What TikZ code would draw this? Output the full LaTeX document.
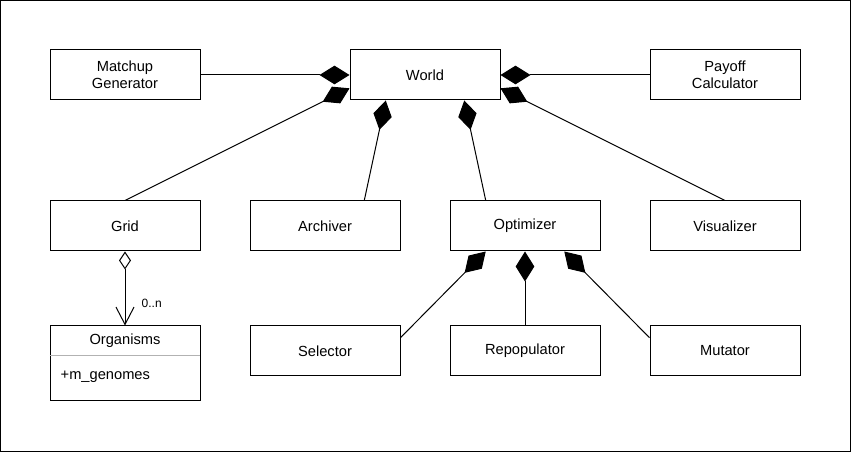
\documentclass[tikz,border=0pt]{standalone}
\usepackage{fontspec}
\setmainfont{Liberation Sans}
\usetikzlibrary{arrows.meta}

\tikzset{
  classbox/.style={draw, line width=0.75pt, minimum width=112.5pt, minimum height=37.5pt,
    inner sep=0pt, align=center, font=\fontsize{11}{13}\selectfont},
  owns/.style={line width=0.75pt, -{Diamond[length=22.5pt,width=14pt]}},
}

\begin{document}
\begin{tikzpicture}[x=0.75pt,y=0.75pt]
\useasboundingbox (0,0) rectangle (851,-452);
\draw [line width=0.75pt] (0.5,-0.5) rectangle (850.5,-451.5);
% top row
\node [classbox] (matchup) at (125,-75) {Matchup\\Generator};
\node [classbox] (world) at (425,-75) {World};
\node [classbox] (payoff) at (725,-75) {Payoff\\Calculator};
% middle row
\node [classbox] (grid) at (125,-226) {Grid};
\node [classbox] (archiver) at (325,-226) {Archiver};
\node [classbox] (optimizer) at (525,-226) {Optimizer};
\node [classbox] (visualizer) at (725,-226) {Visualizer};
% bottom row
\node [classbox] (selector) at (325,-351) {Selector};
\node [classbox] (repopulator) at (525,-351) {Repopulator};
\node [classbox] (mutator) at (725,-351) {Mutator};
\node [classbox, minimum height=56.25pt] (organisms) at (125,-363.5) {};
\node [font=\fontsize{11}{13}\selectfont] (orgtitle) at (125,-341) {Organisms};
\draw [gray!60, line width=0.75pt] (organisms.north west) ++(0,-30.5) -- ++(150,0);
\node [font=\fontsize{11}{13}\selectfont, anchor=west] (genomes) at (56,-377) {+m\_genomes};
% composition
\draw [owns] (matchup.east) -- (world.west);
\draw [owns] (payoff.west) -- (world.east);
\draw [owns] (grid.north) -- (world.190);
\draw [owns] (archiver.33) -- (world.213);
\draw [owns] (optimizer.147) -- (world.-33);
\draw [owns] (visualizer.north) -- (world.-10);
\draw [owns] (selector.10) -- (optimizer.213);
\draw [owns] (repopulator.north) -- (optimizer.south);
\draw [owns] (mutator.170) -- (optimizer.-33);
% aggregation
\draw [line width=0.75pt, {Diamond[open,length=13.5pt,width=9pt]}-{Straight Barb[length=13pt,width=13.5pt]}] (grid.south) -- (organisms.north);
\node [font=\fontsize{9}{10}\selectfont, anchor=west] (mult) at (137,-303) {0..n};
\end{tikzpicture}
\end{document}
